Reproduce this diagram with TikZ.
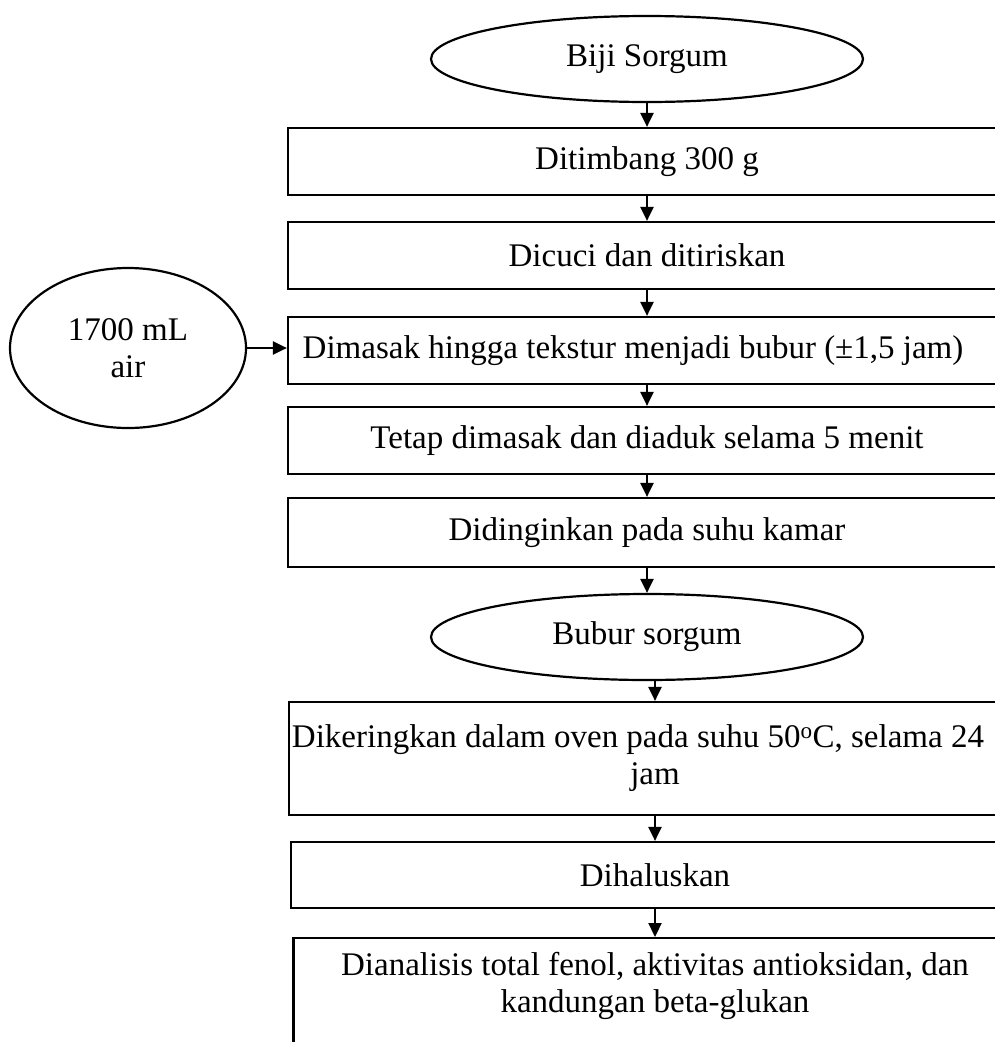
\documentclass[tikz,border=0pt]{standalone}
\usepackage{fontspec}
\setmainfont{Liberation Serif}
\usetikzlibrary{arrows.meta,shapes.geometric}
\begin{document}
\begin{tikzpicture}[x=1pt,y=-1pt,
  every node/.style={font=\fontsize{33}{37}\selectfont, inner sep=0pt},
  box/.style={draw, line width=2.2pt, rectangle, align=center},
  oval/.style={draw, line width=2.2pt, ellipse, align=center},
  arr/.style={line width=2.2pt, -{Triangle[length=14pt,width=13pt]}}]
\useasboundingbox (0,0) rectangle (995,1042);
\clip (0,0) rectangle (995,1042);

% start and intermediate products
\node[oval, minimum width=432pt, minimum height=86pt] (start) at (647,59) {Biji Sorgum};
\node[oval, minimum width=236pt, minimum height=160pt] (water) at (128,348) {1700 mL\\air};

% process steps (boxes run past the right edge)
\node[box, minimum width=718pt, minimum height=67pt] (b1) at (647,161.5) {Ditimbang 300 g};
\node[box, minimum width=718pt, minimum height=67pt] (b2) at (647,255.5) {Dicuci dan ditiriskan};
\node[box, minimum width=718pt, minimum height=67pt] (b3) at (647,350.5) {Dimasak hingga tekstur menjadi bubur (\char"00B1 1,5 jam)\hspace*{28pt}};
\node[box, minimum width=718pt, minimum height=67pt] (b4) at (647,440.5) {Tetap dimasak dan diaduk selama 5 menit};
\node[box, minimum width=718pt, minimum height=69pt] (b5) at (647,532.5) {Didinginkan pada suhu kamar};
\node[oval, minimum width=432pt, minimum height=86pt] (bubur) at (647,637) {Bubur sorgum};
\node[box, minimum width=732pt, minimum height=113pt] (b6) at (655,758.5) {Dikeringkan dalam oven pada suhu 50\textsuperscript{o}C, selama 24\hspace*{34pt}\\jam};
\node[box, minimum width=728pt, minimum height=66pt] (b7) at (655,875) {Dihaluskan};
\node[box, anchor=north, minimum width=723pt, minimum height=140pt] (b8) at (655,937) {};
\node[align=center] (b8text) at ([yshift=-49pt]b8.north) {Dianalisis total fenol, aktivitas antioksidan, dan\\kandungan beta-glukan};

% flow arrows
\draw[arr] (start.south) -- (b1.north);
\draw[arr] (b1.south) -- (b2.north);
\draw[arr] (b2.south) -- (b3.north);
\draw[arr] (water.east) -- (water.east -| b3.west);
\draw[arr] (b3.south) -- (b4.north);
\draw[arr] (b4.south) -- (b5.north);
\draw[arr] (b5.south) -- (bubur.north);
\draw[arr] (b6.north |- bubur.south) -- (b6.north);
\draw[arr] (b6.south) -- (b7.north);
\draw[arr] (b7.south) -- (b8.north);
\end{tikzpicture}
\end{document}
